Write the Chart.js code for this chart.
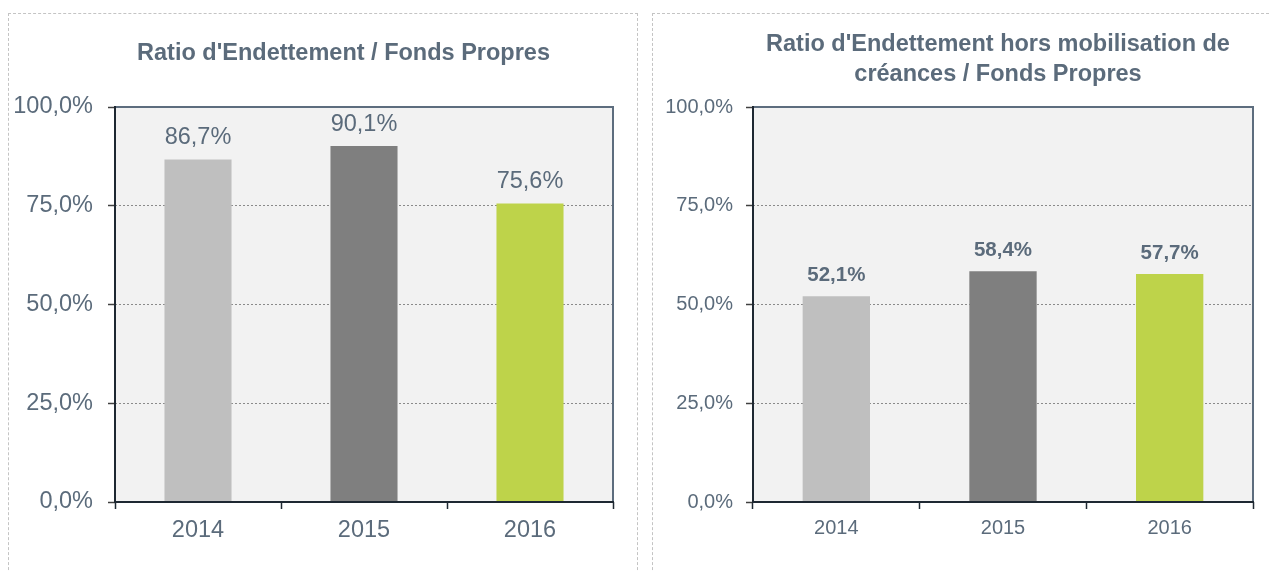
<!DOCTYPE html>
<html>
<head>
<meta charset="utf-8">
<script src="https://cdn.jsdelivr.net/npm/chart.js@4"></script>
<style>
    body { margin: 0; background: #fff; width: 1269px; height: 571px; overflow: hidden; position: relative; }
    .panel { position: absolute; border: 1px dashed #c4c4c4; }
    canvas { position: absolute; top: 0; }
</style>
</head>
<body>
<div class="panel" style="left:8px; top:13px; width:628px; height:600px;"></div>
<div class="panel" style="left:652px; top:13px; width:640px; height:600px;"></div>
<canvas id="leftChart" width="640" height="571" style="left:0"></canvas>
<canvas id="rightChart" width="629" height="571" style="left:640px"></canvas>
<script>
// data
var years = ['2014', '2015', '2016'];
var ratioEndettement = [86.7, 90.1, 75.6];
var ratioHorsMobilisation = [52.1, 58.4, 57.7];
var barColors = ['#bfbfbf', '#7f7f7f', '#bed34a'];
var leftTitle = ["Ratio d'Endettement / Fonds Propres"];
var rightTitle = ["Ratio d'Endettement hors mobilisation de", "créances / Fonds Propres"];

var textColor = '#5b6b7b';
var fontFamily = '"Liberation Sans", Arial, sans-serif';

const fmtPct = (v) => v.toFixed(1).replace('.', ',') + '%';

// grey plot background + frame
const plotFrame = {
    id: 'plotFrame',
    beforeDraw: (chart) => {
        let a = chart.chartArea, ctx = chart.ctx;
        ctx.save();
        ctx.fillStyle = '#f2f2f2';
        ctx.fillRect(a.left, a.top, a.right - a.left, a.bottom - a.top);
        ctx.restore();
    },
    afterDatasetsDraw: (chart) => {
        let a = chart.chartArea, ctx = chart.ctx;
        ctx.save();
        ctx.lineWidth = 2;
        ctx.strokeStyle = '#5d6d7e';
        ctx.beginPath();
        ctx.moveTo(a.left, a.top);
        ctx.lineTo(a.right, a.top);
        ctx.lineTo(a.right, a.bottom);
        ctx.stroke();
        ctx.strokeStyle = '#1e2832';
        ctx.beginPath();
        ctx.moveTo(a.left, a.top - 1);
        ctx.lineTo(a.left, a.bottom);
        ctx.lineTo(a.right + 1, a.bottom);
        ctx.stroke();
        ctx.restore();
    }
};

// value labels above the bars
const barLabels = {
    id: 'barLabels',
    afterDatasetsDraw: (chart, args, opts) => {
        let ctx = chart.ctx;
        let meta = chart.getDatasetMeta(0);
        let data = chart.data.datasets[0].data;
        ctx.save();
        ctx.font = opts.font;
        ctx.fillStyle = textColor;
        ctx.textAlign = 'center';
        ctx.textBaseline = 'middle';
        meta.data.forEach((bar, i) => {
            ctx.fillText(fmtPct(data[i]), bar.x, bar.y - opts.offset);
        });
        ctx.restore();
    }
};

// chart title, may have several lines
const panelTitle = {
    id: 'panelTitle',
    afterDraw: (chart, args, opts) => {
        let ctx = chart.ctx;
        ctx.save();
        ctx.font = opts.font;
        ctx.fillStyle = textColor;
        ctx.textAlign = 'center';
        ctx.textBaseline = 'middle';
        opts.lines.forEach((line, i) => {
            ctx.fillText(line, opts.x, opts.y + i * opts.lineHeight);
        });
        ctx.restore();
    }
};

const makeChart = (canvas, values, s) => {
    return new Chart(canvas, {
        type: 'bar',
        data: {
            labels: years,
            datasets: [{
                data: values,
                backgroundColor: barColors,
                barPercentage: 0.404,
                categoryPercentage: 1
            }]
        },
        options: {
            responsive: false,
            animation: false,
            layout: { padding: { top: 107, right: s.padRight, left: 0, bottom: 0 } },
            plugins: {
                legend: { display: false },
                tooltip: { enabled: false },
                barLabels: { font: s.labelFont, offset: s.labelOffset },
                panelTitle: { lines: s.title, x: s.titleX, y: s.titleY, lineHeight: s.titleLineHeight, font: 'bold 23.5px ' + fontFamily }
            },
            scales: {
                x: {
                    afterFit: (scale) => { scale.height = 69; },
                    grid: { offset: true, drawOnChartArea: false, tickLength: 7, tickColor: '#1e2832', tickWidth: 1.5 },
                    border: { display: false },
                    ticks: { color: textColor, padding: s.xPad, font: { family: fontFamily, size: s.tickSize, lineHeight: 1.2 } }
                },
                y: {
                    min: 0,
                    max: 100,
                    afterFit: (scale) => { scale.width = s.axisWidth; },
                    grid: { color: '#8a8a8a', lineWidth: 1, tickLength: 7, tickColor: '#404040', tickWidth: 1.5 },
                    border: { display: false, dash: [2, 2] },
                    ticks: {
                        stepSize: 25,
                        color: textColor,
                        padding: s.yPad,
                        font: { family: fontFamily, size: s.tickSize },
                        callback: (v) => fmtPct(v)
                    }
                }
            }
        },
        plugins: [plotFrame, barLabels, panelTitle]
    });
};

var leftChart = makeChart(document.getElementById('leftChart'), ratioEndettement, {
    padRight: 27, axisWidth: 115, tickSize: 23.5, xPad: 7, yPad: 15,
    labelFont: '23.5px ' + fontFamily, labelOffset: 22,
    title: leftTitle, titleX: 343.5, titleY: 54, titleLineHeight: 30
});

var rightChart = makeChart(document.getElementById('rightChart'), ratioHorsMobilisation, {
    padRight: 16, axisWidth: 113, tickSize: 20, xPad: 7, yPad: 13,
    labelFont: 'bold 20.5px ' + fontFamily, labelOffset: 21,
    title: rightTitle, titleX: 358, titleY: 45, titleLineHeight: 30
});
</script>
</body>
</html>
